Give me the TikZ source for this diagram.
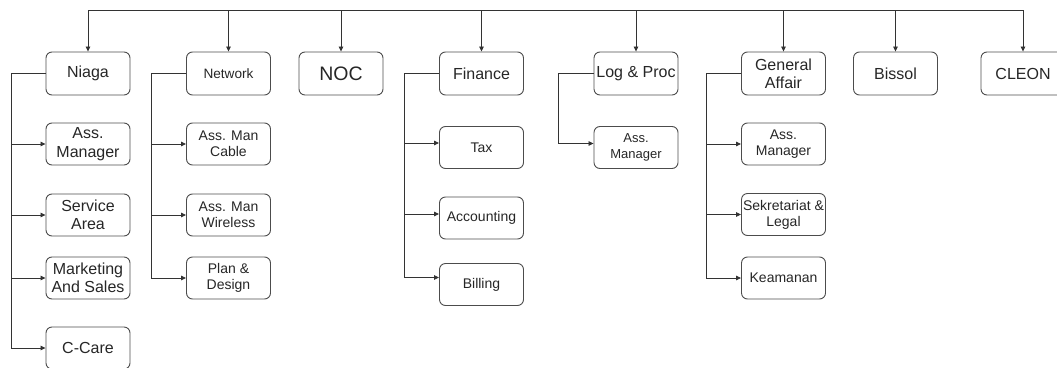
\documentclass[tikz,border=0pt]{standalone}
\usepackage{fontspec}
\setmainfont{Liberation Sans}
\usetikzlibrary{arrows.meta}
\begin{document}
\begin{tikzpicture}[x=1pt,y=-1pt,
  boxsty/.style={draw=black!70,line width=0.9pt,rounded corners=6pt,
    minimum width=84pt,minimum height=43pt,inner sep=1pt,align=center,
    text=black!85,font=\fontsize{16}{18.4}\selectfont},
  substy/.style={boxsty,minimum height=42pt,font=\fontsize{14}{16}\selectfont},
  bigsub/.style={boxsty,minimum height=42pt},
  arr/.style={draw=black!80,line width=0.8pt,-{Triangle[length=5pt,width=4.5pt]}},
  bus/.style={draw=black!80,line width=0.8pt}]

  \useasboundingbox (0,0) rectangle (1057,367);

  % top row
  \node[boxsty] (niaga) at (88,73.5) {Niaga};
  \node[boxsty,font=\fontsize{13.6}{16}\selectfont] (network) at (228.5,73.5) {Network};
  \node[boxsty,font=\fontsize{19.5}{22}\selectfont] (noc) at (341,73.5) {NOC};
  \node[boxsty] (finance) at (481.5,73.5) {Finance};
  \node[boxsty] (logproc) at (636,73.5) {Log \& Proc};
  \node[boxsty] (ga) at (783.5,73.5) {General\\Affair};
  \node[boxsty] (bissol) at (895.5,73.5) {Bissol};
  \node[boxsty] (cleon) at (1023,73.5) {CLEON};

  \coordinate (busl) at (88,10);
  \coordinate (busr) at (1023,10);
  \draw[bus] (busl) -- (busr);
  \foreach \n in {niaga,network,noc,finance,logproc,ga,bissol,cleon}
    \draw[arr] (\n |- busl) -- (\n);

  % Niaga
  \node[bigsub] (niagaam) at (88,144) {Ass.\\Manager};
  \node[bigsub] (service) at (88,215) {Service\\Area};
  \node[bigsub] (marketing) at (88,278) {Marketing\\And Sales};
  \node[bigsub] (ccare) at (88,348) {C-Care};
  \foreach \n in {niagaam,service,marketing,ccare}
    \draw[arr] (niaga.west) -- ++(-34,0) |- (\n.west);

  % Network
  \node[substy] (cable) at (228.5,144) {Ass. Man\\Cable};
  \node[substy] (wireless) at (228.5,215) {Ass. Man\\Wireless};
  \node[substy] (plan) at (228.5,278) {Plan \&\\Design};
  \foreach \n in {cable,wireless,plan}
    \draw[arr] (network.west) -- ++(-35,0) |- (\n.west);

  % Finance
  \node[substy] (tax) at (481.5,147.5) {Tax};
  \node[substy] (accounting) at (481.5,218) {Accounting};
  \node[substy] (billing) at (481.5,284.5) {Billing};
  \draw[arr] (finance.west) -- ++(-35,0) |- ([yshift=4.5pt]tax.west);
  \draw[arr] (finance.west) -- ++(-35,0) |- ([yshift=4pt]accounting.west);
  \draw[arr] (finance.west) -- ++(-35,0) |- ([yshift=7pt]billing.west);

  % Log & Proc
  \node[substy,font=\fontsize{13}{15.5}\selectfont] (logam) at (636,147.5) {Ass.\\Manager};
  \draw[arr] (logproc.west) -- ++(-35,0) |- ([yshift=4pt]logam.west);

  % General Affair
  \node[substy] (gaam) at (783.5,144) {Ass.\\Manager};
  \node[substy] (sekretariat) at (783.5,214.5) {Sekretariat \&\\Legal};
  \node[substy] (keamanan) at (783.5,278) {Keamanan};
  \foreach \n in {gaam,sekretariat,keamanan}
    \draw[arr] (ga.west) -- ++(-35,0) |- (\n.west);

\end{tikzpicture}
\end{document}
